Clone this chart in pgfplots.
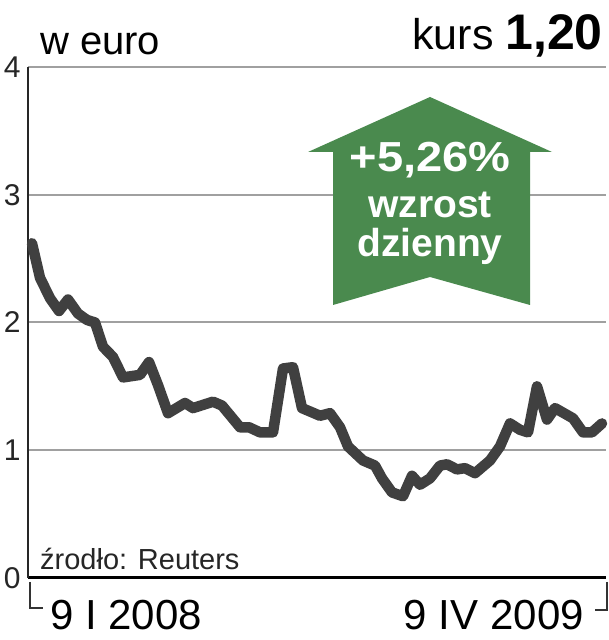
\documentclass[border=0pt]{standalone}
\usepackage{pgfplots}
\pgfplotsset{compat=1.18}
\usepackage{fontspec}
\setmainfont{Liberation Sans}
\definecolor{arrowgreen}{RGB}{74,138,78}
\definecolor{linegray}{RGB}{64,64,64}
\definecolor{gridgray}{RGB}{160,160,160}
\newcommand{\fs}[1]{\fontsize{#1}{#1}\selectfont}
\begin{document}
\begin{tikzpicture}[x=1pt,y=1pt]
\path[use as bounding box] (0,0) rectangle (608,640);
\begin{axis}[
  at={(28pt,62pt)}, anchor=south west,
  scale only axis, width=578pt, height=511pt,
  xmin=28, xmax=606, ymin=0, ymax=4,
  axis x line=bottom, axis y line=left,
  x axis line style={-, line width=3pt, black},
  y axis line style={-, line width=1.5pt, black!85},
  xtick=\empty,
  ytick={0,1,2,3,4},
  major tick length=0pt,
  ymajorgrids,
  grid style={line width=2pt, gridgray},
  /pgf/number format/assume math mode=true,
  yticklabel style={font=\fs{30}, text=black!85, anchor=east, xshift=-4pt},
  clip=false,
]
\addplot[line width=10.5pt, linegray, line join=round, line cap=round] coordinates {
(32,2.62) (40,2.35) (50,2.19) (59,2.09) (68,2.18) (78,2.07) (87,2.02) (95,2.00)
(103,1.81) (113,1.73) (123,1.57) (140,1.59) (149,1.69) (158,1.51) (168,1.29)
(185,1.37) (193,1.33) (213,1.38) (222,1.35) (240,1.18) (249,1.18) (260,1.14)
(273,1.14) (283,1.64) (293,1.65) (302,1.33) (320,1.27) (330,1.29) (340,1.18)
(348,1.03) (363,0.92) (375,0.88) (382,0.78) (392,0.67) (403,0.64) (412,0.80)
(420,0.73) (430,0.78) (440,0.88) (447,0.89) (457,0.85) (465,0.86) (475,0.82)
(490,0.92) (500,1.03) (510,1.21) (520,1.16) (528,1.14) (537,1.50) (547,1.24)
(555,1.33) (573,1.25) (583,1.14) (592,1.14) (602,1.21)
};
\end{axis}
% arrow
\fill[arrowgreen] (430,543) -- (552,488) -- (530,488) -- (530,335) -- (430,363)
  -- (333,335) -- (333,488) -- (308,488) -- cycle;
\node[anchor=base, text=white, font=\fs{42}\bfseries, inner sep=0pt, xscale=1.12] at (430,468) {+5,26\%};
\node[anchor=base, text=white, font=\fs{39}\bfseries, inner sep=0pt] at (430,422) {wzrost};
\node[anchor=base, text=white, font=\fs{39}\bfseries, inner sep=0pt] at (430,383) {dzienny};
% titles
\node[anchor=base west, inner sep=0pt, font=\fs{40}] at (40,585) {w euro};
\node[anchor=base east, inner sep=0pt] at (603,590) {\fs{43}kurs \fs{50}\textbf{1,20}};
\node[anchor=base west, inner sep=0pt, font=\fs{29}, text=black!85] at (40,70) {źrodło: Reuters};
% x labels
\node[anchor=base west, inner sep=0pt, font=\fs{42}] at (50,10) {9 I 2008};
\node[anchor=base east, inner sep=0pt, font=\fs{42}] at (584,10) {9 IV 2009};
\draw[line width=1.5pt, black!80] (30,58) -- (30,32) -- (43,32);
\draw[line width=1.5pt, black!80] (607,58) -- (607,30) -- (595,30);
\end{tikzpicture}
\end{document}
